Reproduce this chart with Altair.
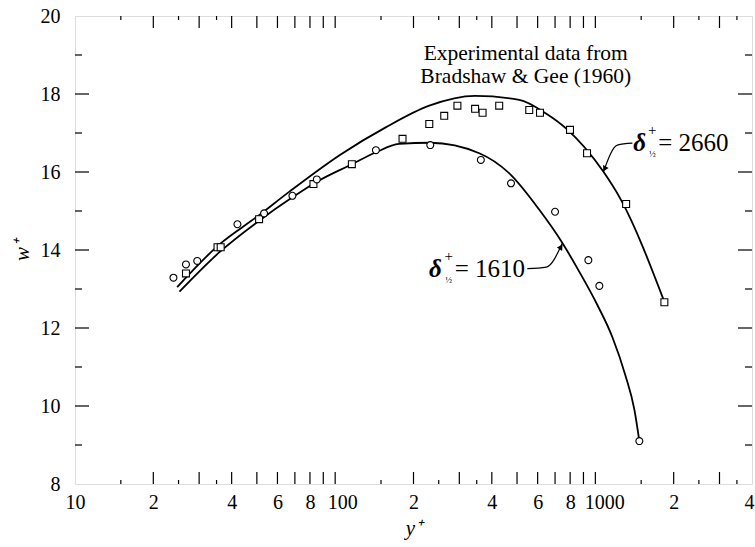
import altair as alt
import pandas as pd

# ---- measurements (Bradshaw & Gee 1960) ----
sq_yplus = [26.7, 35.3, 36.3, 51.0, 82.5, 115.9, 181.5, 230, 262.5, 295, 345, 368.6,
            427, 557, 612.6, 799, 929, 1313, 1842]
sq_wplus = [13.40, 14.07, 14.07, 14.79, 15.69, 16.20, 16.85, 17.23, 17.44, 17.70, 17.62, 17.52,
            17.70, 17.59, 17.52, 17.08, 16.48, 15.18, 12.66]

ci_yplus = [23.9, 26.7, 29.5, 42.1, 53.3, 68.5, 85.0, 143.4, 232, 363, 474, 700, 940, 1036, 1476]
ci_wplus = [13.29, 13.63, 13.72, 14.66, 14.94, 15.39, 15.81, 16.56, 16.69, 16.31, 15.71, 14.98,
            13.74, 13.08, 9.10]

# ---- computed profiles ----
c2660_yplus = [24.7, 36, 50, 66.5, 105, 157, 230, 345, 510, 646, 771, 1073, 1256, 1830]
c2660_wplus = [13.05, 14.15, 14.85, 15.49, 16.45, 17.15, 17.70, 17.95, 17.85, 17.50, 17.12, 16.01,
               15.28, 12.72]

c1610_yplus = [25.2, 36, 51, 68.5, 85, 116, 143, 176, 232, 358, 466, 609, 747, 868, 1018, 1162,
               1304, 1413, 1476]
c1610_wplus = [12.93, 13.95, 14.75, 15.35, 15.75, 16.20, 16.50, 16.72, 16.75, 16.48, 15.97, 15.03,
               14.18, 13.44, 12.59, 11.77, 10.79, 9.90, 9.10]

# ---- axis ticks ----
x_label_values = [10, 20, 40, 60, 80, 100, 200, 400, 600, 800, 1000, 2000, 4000]
x_major_ticks = [20, 30, 40, 50, 60, 70, 80, 90, 100, 200, 300, 400, 500, 600, 700, 800, 900,
                 1000, 2000, 3000]
x_minor_ticks = [15, 25, 35, 150, 250, 350, 1500, 2500, 3500]
y_label_values = [8, 10, 12, 14, 16, 18, 20]
y_major_ticks = [10, 12, 14, 16, 18]
y_minor_ticks = [9, 11, 13, 15, 17, 19]

W, H = 677, 468
FONT = "Liberation Serif"

xs = alt.Scale(type="log", domain=[10, 4000], nice=False)
ys = alt.Scale(domain=[8, 20], nice=False, zero=False)

# decade labels in full, the others by their leading digit only
label_expr = (
    "datum.value == 10 || datum.value == 100 || datum.value == 1000 ? toString(datum.value) : "
    "substring(toString(datum.value), 0, 1)"
)
label_shift = (
    "datum.value == 100 ? 7 : datum.value == 1000 ? 9 : datum.value == 4000 ? -3 : 0"
)

x_axis = alt.Axis(values=x_label_values, labelExpr=label_expr, labelOffset={"expr": label_shift},
                  ticks=False, domain=False, grid=False, labelFont=FONT, labelFontSize=20,
                  labelColor="black", labelPadding=8, labelOverlap=False, labelFlush=False,
                  title="y⁺", titleFont=FONT, titleFontSize=21, titleFontStyle="italic",
                  titleFontWeight="normal", titleColor="black", titlePadding=5)
y_axis = alt.Axis(values=y_label_values, ticks=False, domain=False, grid=False,
                  labelFont=FONT, labelFontSize=20, labelColor="black", labelPadding=15,
                  labelOverlap=False, labelFlush=False,
                  title="w⁺", titleFont=FONT, titleFontSize=21, titleFontStyle="italic",
                  titleFontWeight="normal", titleColor="black", titlePadding=8)

curves = pd.DataFrame({
    "yplus": c2660_yplus + c1610_yplus,
    "wplus": c2660_wplus + c1610_wplus,
    "case": ["2660"] * len(c2660_yplus) + ["1610"] * len(c1610_yplus),
})

lines = alt.Chart(curves).mark_line(color="black", strokeWidth=1.8, interpolate="monotone").encode(
    x=alt.X("yplus:Q", scale=xs, axis=x_axis),
    y=alt.Y("wplus:Q", scale=ys, axis=y_axis),
    detail="case:N",
)

squares = alt.Chart(pd.DataFrame({"yplus": sq_yplus, "wplus": sq_wplus})).mark_point(
    shape="square", filled=True, fill="white", stroke="black", strokeWidth=1.1, size=48, opacity=1
).encode(x=alt.X("yplus:Q", scale=xs), y=alt.Y("wplus:Q", scale=ys))

circles = alt.Chart(pd.DataFrame({"yplus": ci_yplus, "wplus": ci_wplus})).mark_point(
    shape="circle", filled=True, fill="white", stroke="black", strokeWidth=1.1, size=48, opacity=1
).encode(x=alt.X("yplus:Q", scale=xs), y=alt.Y("wplus:Q", scale=ys))


def x_ticks(vals, length):
    df = pd.DataFrame({"v": vals})
    bottom = alt.Chart(df).mark_rule(color="black", strokeWidth=1.2).encode(
        x=alt.X("v:Q", scale=xs), y=alt.value(H), y2=alt.value(H - length))
    top = alt.Chart(df).mark_rule(color="black", strokeWidth=1.2).encode(
        x=alt.X("v:Q", scale=xs), y=alt.value(0), y2=alt.value(length))
    return [bottom, top]


def y_ticks(vals, length):
    df = pd.DataFrame({"v": vals})
    left = alt.Chart(df).mark_rule(color="black", strokeWidth=1.2).encode(
        y=alt.Y("v:Q", scale=ys), x=alt.value(0), x2=alt.value(length))
    right = alt.Chart(df).mark_rule(color="black", strokeWidth=1.2).encode(
        y=alt.Y("v:Q", scale=ys), x=alt.value(W), x2=alt.value(W - length))
    return [left, right]


tick_layers = (x_ticks(x_major_ticks, 12) + x_ticks(x_minor_ticks, 4)
               + y_ticks(y_major_ticks, 14) + y_ticks(y_minor_ticks, 7))

# ---- annotations ----
caption = alt.Chart(pd.DataFrame({
    "yplus": [540, 540], "wplus": [19.02, 18.44],
    "t": ["Experimental data from", "Bradshaw & Gee (1960)"],
})).mark_text(font=FONT, fontSize=21.5, color="black", align="center", baseline="middle").encode(
    x=alt.X("yplus:Q", scale=xs), y=alt.Y("wplus:Q", scale=ys), text="t:N")

delta = alt.Chart(pd.DataFrame({"yplus": [1480, 243], "wplus": [16.74, 13.52], "t": ["δ", "δ"]})
                  ).mark_text(font=FONT, fontSize=25, fontStyle="italic", fontWeight="bold",
                              color="black", align="center", baseline="middle").encode(
    x=alt.X("yplus:Q", scale=xs), y=alt.Y("wplus:Q", scale=ys), text="t:N")

plus = alt.Chart(pd.DataFrame({"yplus": [1655, 273], "wplus": [17.07, 13.85], "t": ["+", "+"]})
                 ).mark_text(font=FONT, fontSize=15, color="black", align="center",
                             baseline="middle").encode(
    x=alt.X("yplus:Q", scale=xs), y=alt.Y("wplus:Q", scale=ys), text="t:N")

half = alt.Chart(pd.DataFrame({"yplus": [1655, 273], "wplus": [16.46, 13.23], "t": ["½", "½"]})
                 ).mark_text(font=FONT, fontSize=9, color="black", align="center",
                             baseline="middle").encode(
    x=alt.X("yplus:Q", scale=xs), y=alt.Y("wplus:Q", scale=ys), text="t:N")

values = alt.Chart(pd.DataFrame({"yplus": [1745, 288], "wplus": [16.74, 13.52],
                                 "t": ["= 2660", "= 1610"]})
                   ).mark_text(font=FONT, fontSize=25, color="black", align="left",
                               baseline="middle").encode(
    x=alt.X("yplus:Q", scale=xs), y=alt.Y("wplus:Q", scale=ys), text="t:N")

leaders = alt.Chart(pd.DataFrame({
    "yplus": [1073, 1215, 1388, 547.6, 648, 747],
    "wplus": [16.0, 16.69, 16.74, 13.52, 13.56, 14.18],
    "case": ["2660"] * 3 + ["1610"] * 3,
})).mark_line(color="black", strokeWidth=1.2, interpolate="monotone").encode(
    x=alt.X("yplus:Q", scale=xs), y=alt.Y("wplus:Q", scale=ys), detail="case:N")

heads = alt.Chart(pd.DataFrame({
    "yplus": [1085, 738], "wplus": [16.08, 14.08], "ang": [207, 34],
})).mark_point(shape="triangle-up", filled=True, color="black", size=40, opacity=1).encode(
    x=alt.X("yplus:Q", scale=xs), y=alt.Y("wplus:Q", scale=ys),
    angle=alt.Angle("ang:Q", scale=None))

chart = alt.layer(
    lines, *tick_layers, leaders, heads, squares, circles, caption, delta, plus, half, values
).properties(
    width=W, height=H,
    autosize=alt.AutoSizeParams(type="none"),
    padding={"left": 75, "top": 16, "right": 3, "bottom": 63},
).configure_view(
    stroke="black", strokeWidth=1.6
).configure(background="white")

chart.save("out.html", embed_options={"renderer": "svg", "actions": False})
